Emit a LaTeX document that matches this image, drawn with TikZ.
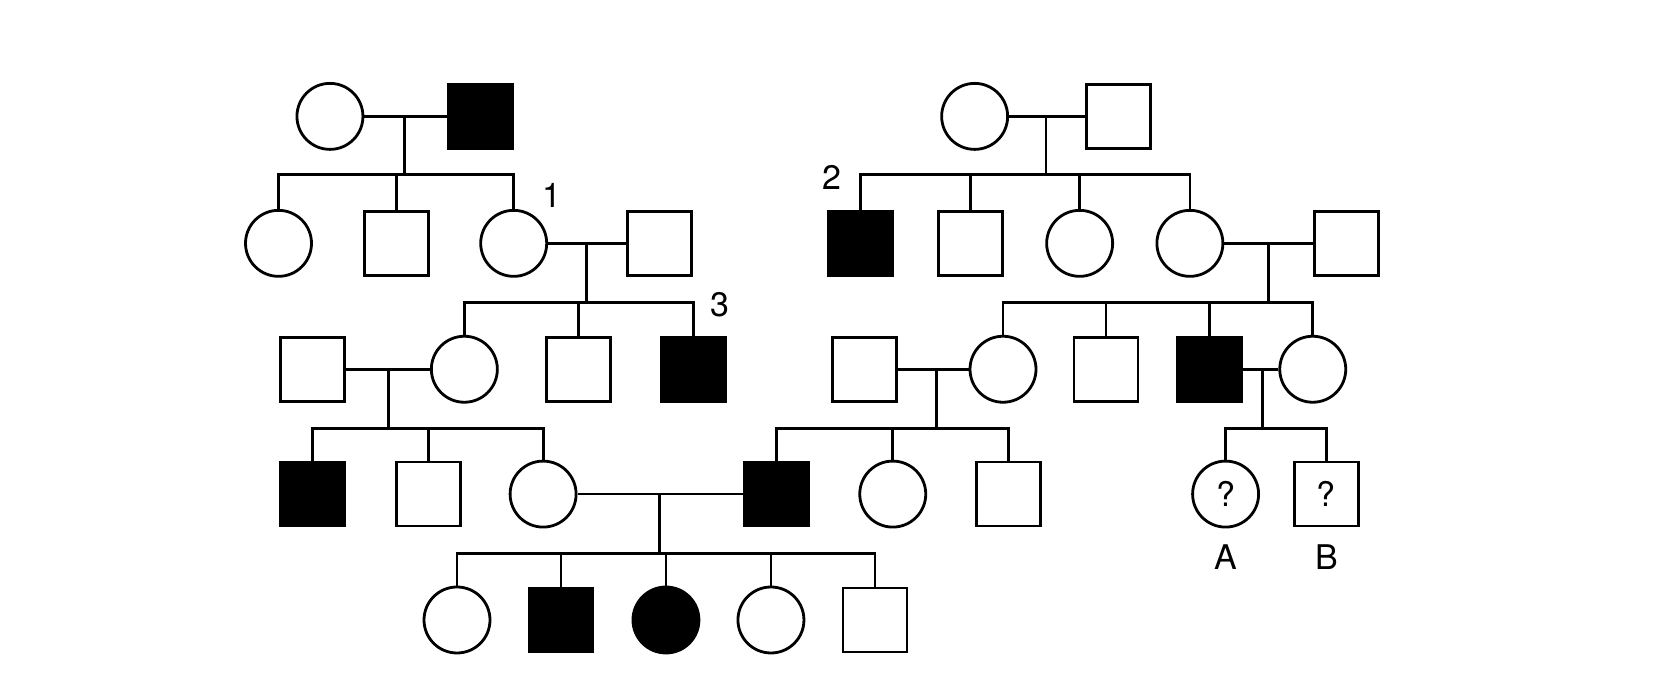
\documentclass[tikz,border=0pt]{standalone}
\usepackage{fontspec}
\setmainfont{TeX Gyre Heros}
\begin{document}
\begin{tikzpicture}[x=1.05pt,y=-1.058pt,line width=2.8pt,
  m/.style={draw,rectangle,minimum size=64pt,inner sep=0pt,fill=white},
  f/.style={draw,circle,minimum size=66pt,inner sep=0pt,fill=white},
  A/.style={fill=black},
  lab/.style={font=\fontsize{34}{34}\selectfont},
  every node/.append style={font=\fontsize{34}{34}\selectfont}]
\useasboundingbox[fill=white] (4.76,0) rectangle (1580,657.8);
% left family
\node[f] (a1) at (319,110) {};
\node[m,A] (a2) at (462,110) {};
\node[f] (b1) at (270,230) {};
\node[m] (b2) at (382,230) {};
\node[f] (b3) at (494,230) {};
\node[m] (b4) at (633,230) {};
\node[m] (c1) at (302,349) {};
\node[f] (c2) at (447,349) {};
\node[m] (c3) at (556,349) {};
\node[m,A] (c4) at (665,349) {};
\node[m,A] (d1) at (302,467) {};
\node[m] (d2) at (413,467) {};
\node[f] (d3) at (522,467) {};
\node[m,A] (d4) at (744,467) {};
\node[f] (d5) at (855,467) {};
\node[m] (d6) at (965,467) {};
\node[f] (e1) at (440,586) {};
\node[m,A] (e2) at (539,586) {};
\node[f,A] (e3) at (639,586) {};
\node[f] (e4) at (739,586) {};
\node[m] (e5) at (838,586) {};
% right family
\node[f] (r1) at (933,110) {};
\node[m] (r2) at (1070,110) {};
\node[m,A] (s1) at (824,230) {};
\node[m] (s2) at (929,230) {};
\node[f] (s3) at (1033,230) {};
\node[f] (s4) at (1138,230) {};
\node[m] (s5) at (1287,230) {};
\node[m] (t0) at (828,349) {};
\node[f] (t1) at (960,349) {};
\node[m] (t2) at (1058,349) {};
\node[m,A] (t3) at (1157,349) {};
\node[f] (t4) at (1255,349) {};
\node[f] (qa) at (1172,467) {?};
\node[m] (qb) at (1268,467) {?};
% labels
\node (l1) at (530,185) {1};
\node (l2) at (797,168) {2};
\node (l3) at (690,288) {3};
\node (la) at (1172,527) {A};
\node (lb) at (1268,527) {B};
% connectors
\coordinate (m1) at (390,110);
\draw (a1) -- (a2); \draw (m1) -- (390,165);
\draw (b1.north) |- (m1|-0,165) -| (b3.north); \draw (b2.north) -- (b2.north|-0,165);
\coordinate (m2) at (563,230);
\draw (b3) -- (b4); \draw (m2) -- (563,286);
\draw (c2.north) |- (m2|-0,286) -| (c4.north); \draw (c3.north) -- (c3.north|-0,286);
\coordinate (m3) at (375,349);
\draw (c1) -- (c2); \draw (m3) -- (375,405);
\draw (d1.north) |- (m3|-0,405) -| (d3.north); \draw (d2.north) -- (d2.north|-0,405);
\coordinate (m4) at (633,467);
\draw (d3) -- (d4); \draw (m4) -- (633,523);
\draw (e1.north) |- (m4|-0,523) -| (e5.north);
\foreach \n in {e2,e3,e4} \draw (\n.north) -- (\n.north|-0,523);
\coordinate (m5) at (1001,110);
\draw (r1) -- (r2); \draw (m5) -- (1001,165);
\draw (s1.north) |- (m5|-0,165) -| (s4.north);
\foreach \n in {s2,s3} \draw (\n.north) -- (\n.north|-0,165);
\coordinate (m6) at (1213,230);
\draw (s4) -- (s5); \draw (m6) -- (1213,286);
\draw (t1.north) |- (m6|-0,286) -| (t4.north);
\foreach \n in {t2,t3} \draw (\n.north) -- (\n.north|-0,286);
\coordinate (m7) at (897,349);
\draw (t0) -- (t1); \draw (m7) -- (897,405);
\draw (d4.north) |- (m7|-0,405) -| (d6.north); \draw (d5.north) -- (d5.north|-0,405);
\coordinate (m8) at (1207,349);
\draw (t3) -- (t4); \draw (m8) -- (1207,405);
\draw (qa.north) |- (m8|-0,405) -| (qb.north);
\end{tikzpicture}
\end{document}
